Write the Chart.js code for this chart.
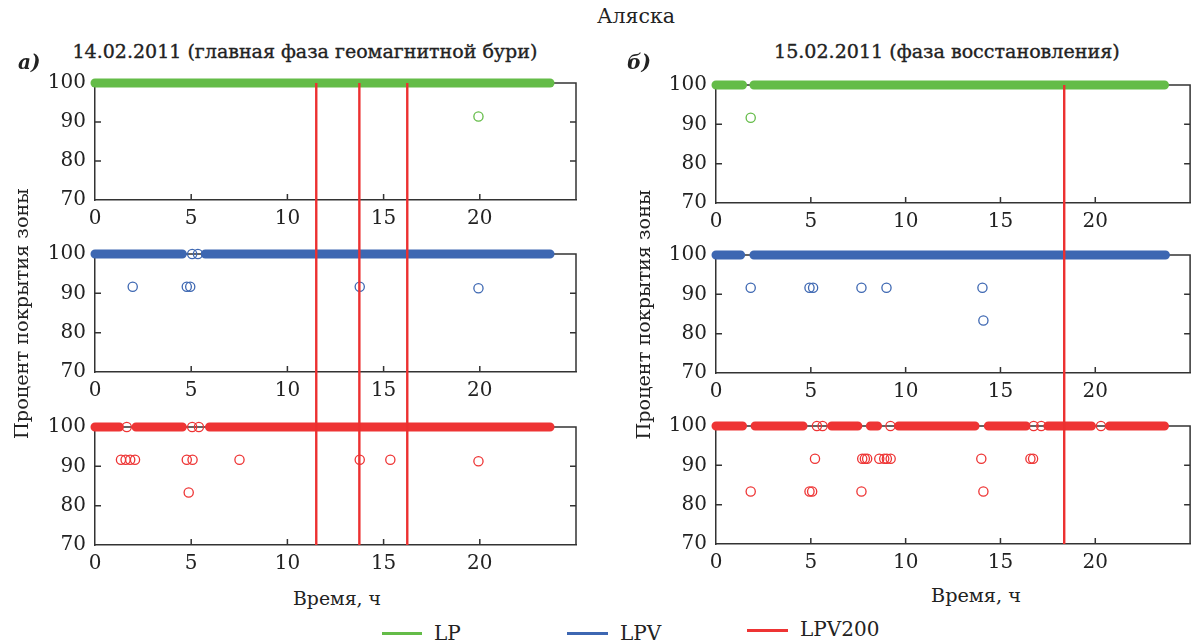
<!DOCTYPE html>
<html><head><meta charset="utf-8">
<script src="https://cdn.jsdelivr.net/npm/chart.js@4.4.1/dist/chart.umd.min.js"></script>
<style>
html,body{margin:0;padding:0;background:#fff;}
body{width:1196px;height:643px;position:relative;overflow:hidden;font-family:"DejaVu Serif",serif;color:#222;}
canvas{position:absolute;}
.t{position:absolute;white-space:nowrap;line-height:1;}
.lg{position:absolute;height:3px;}
</style></head><body>
<script>
// ---------- data ----------
const xTickLabels = [0, 5, 10, 15, 20];
const yTickLabels = [70, 80, 90, 100];
const seriesNames = ['LP', 'LPV', 'LPV200'];
const seriesColors = ['#64bc48', '#3d67b2', '#ee3434'];

// 14.02.2011 — runs of 100 % coverage [start, end] in hours, isolated 100 % points, drops
const lpRuns14 = [[0, 23.65]];
const lpSingles14 = [];
const lpDropX14 = [19.93];
const lpDropY14 = [91.4];

const lpvRuns14 = [[0, 4.54], [5.73, 23.65]];
const lpvSingles14 = [5.05, 5.35];
const lpvDropX14 = [1.96, 4.77, 4.95, 13.76, 19.93];
const lpvDropY14 = [91.67, 91.67, 91.67, 91.67, 91.3];

const lpv200Runs14 = [[0, 1.27], [2.13, 4.54], [5.95, 23.65]];
const lpv200Singles14 = [1.65, 5.05, 5.4];
const lpv200DropX14 = [1.35, 1.59, 1.83, 2.08, 4.77, 4.87, 5.07, 7.51, 13.76, 15.35, 19.93];
const lpv200DropY14 = [91.67, 91.67, 91.67, 91.67, 91.67, 83.33, 91.67, 91.67, 91.67, 91.67, 91.3];

const stormMarks14 = [11.5, 13.74, 16.23];

// 15.02.2011
const lpRuns15 = [[0, 1.4], [2.0, 23.65]];
const lpSingles15 = [];
const lpDropX15 = [1.83];
const lpDropY15 = [91.67];

const lpvRuns15 = [[0, 1.3], [2.0, 23.7]];
const lpvSingles15 = [];
const lpvDropX15 = [1.83, 4.93, 5.12, 7.67, 8.99, 14.05, 14.1];
const lpvDropY15 = [91.67, 91.67, 91.67, 91.67, 91.67, 91.67, 83.33];

const lpv200Runs15 = [[0, 1.4], [2.06, 4.59], [6.1, 7.48], [8.14, 8.52], [9.63, 13.66], [14.36, 16.35], [17.5, 19.8], [20.75, 23.65]];
const lpv200Singles15 = [5.32, 5.62, 9.2, 16.75, 17.15, 20.3];
const lpv200DropX15 = [1.83, 4.93, 5.07, 5.22, 7.67, 7.71, 7.85, 7.97, 8.61, 8.87, 9.01, 9.21, 13.99, 14.1, 16.58, 16.72];
const lpv200DropY15 = [83.33, 83.33, 83.33, 91.67, 83.33, 91.67, 91.67, 91.67, 91.67, 91.67, 91.67, 91.67, 91.67, 83.33, 91.67, 91.67];

const recoveryMarks15 = [18.25];

// ---------- helpers ----------
const tickFont = {family: 'DejaVu Serif', size: 20};
const axisColor = '#333';

const framePlugin = {
  id: 'frame',
  beforeDatasetsDraw(chart) {
    const {ctx, chartArea: a, scales: {x, y}} = chart;
    ctx.save();
    ctx.strokeStyle = axisColor; ctx.lineWidth = 1.5;
    ctx.beginPath();
    ctx.moveTo(a.left, a.top); ctx.lineTo(a.right, a.top); ctx.lineTo(a.right, a.bottom);
    yTickLabels.forEach(v => {
      if (v === 70 || v === 100) return;
      const py = y.getPixelForValue(v);
      ctx.moveTo(a.left, py); ctx.lineTo(a.left + 6, py);
      ctx.moveTo(a.right, py); ctx.lineTo(a.right - 6, py);
    });
    xTickLabels.forEach(v => {
      if (v === 0) return;
      const px = x.getPixelForValue(v);
      ctx.moveTo(px, a.bottom); ctx.lineTo(px, a.bottom - 6);
    });
    ctx.stroke();
    ctx.restore();
  }
};

function makeCanvas(left, top, w, h) {
  const c = document.createElement('canvas');
  c.width = w; c.height = h;
  c.style.left = left + 'px'; c.style.top = top + 'px';
  c.style.width = w + 'px'; c.style.height = h + 'px';
  document.body.appendChild(c);
  return c;
}

function makePanel(left, width, axisW, padRight, areaTop, areaBottom, runs, singles, dropX, dropY, color) {
  const padTop = 12, axisH = 34;
  const c = makeCanvas(left, areaTop - padTop, width, areaBottom - areaTop + padTop + axisH);
  const band = [];
  runs.forEach(r => { band.push({x: r[0], y: 100}, {x: r[1], y: 100}, {x: r[1], y: null}); });
  const pts = singles.map(v => ({x: v, y: 100})).concat(dropX.map((v, i) => ({x: v, y: dropY[i]})));
  new Chart(c, {
    type: 'scatter',
    data: {datasets: [
      {data: pts, showLine: false, pointStyle: 'circle', pointRadius: 4.6, pointBorderWidth: 1.3,
       pointBorderColor: color, pointBackgroundColor: 'rgba(0,0,0,0)', clip: false},
      {data: band, showLine: true, spanGaps: false, borderColor: color, borderWidth: 9,
       borderCapStyle: 'round', pointRadius: 0, clip: false}
    ]},
    options: {
      responsive: false, animation: false, devicePixelRatio: 1,
      layout: {padding: {top: padTop, right: padRight, left: 0, bottom: 0}},
      plugins: {legend: {display: false}, tooltip: {enabled: false}},
      scales: {
        x: {type: 'linear', min: 0, max: 25,
            afterFit: s => { s.height = axisH; s.paddingLeft = 0; s.paddingRight = 0; },
            afterBuildTicks: s => { s.ticks = xTickLabels.map(v => ({value: v})); },
            grid: {display: false, drawTicks: false},
            border: {display: true, color: axisColor, width: 1.5},
            ticks: {padding: 7, font: tickFont, color: '#222', maxRotation: 0, autoSkip: false}},
        y: {type: 'linear', min: 70, max: 100,
            afterFit: s => { s.width = axisW; s.paddingTop = 0; s.paddingBottom = 0; },
            afterBuildTicks: s => { s.ticks = yTickLabels.map(v => ({value: v})); },
            grid: {display: false, drawTicks: false},
            border: {display: true, color: axisColor, width: 1.5},
            ticks: {padding: 9, font: tickFont, color: '#222', autoSkip: false}}
      }
    },
    plugins: [framePlugin]
  });
}

function makeMarks(left, right, top, bottom, marks) {
  const c = makeCanvas(left, top, right - left, bottom - top);
  new Chart(c, {
    type: 'scatter',
    data: {datasets: marks.map(m => ({data: [{x: m, y: 0}, {x: m, y: 1}], showLine: true,
      borderColor: '#ec3030', borderWidth: 2.4, pointRadius: 0}))},
    options: {
      responsive: false, animation: false, devicePixelRatio: 1,
      layout: {padding: 0},
      plugins: {legend: {display: false}, tooltip: {enabled: false}},
      scales: {x: {type: 'linear', min: 0, max: 25, display: false},
               y: {type: 'linear', min: 0, max: 1, display: false}}
    }
  });
}

function addText(txt, cx, cy, size, opts) {
  opts = opts || {};
  const d = document.createElement('div');
  d.className = 't'; d.textContent = txt;
  d.style.fontSize = size + 'px';
  if (opts.bold) d.style.fontWeight = 'bold';
  if (opts.italic) d.style.fontStyle = 'italic';
  if (opts.stroke) d.style.webkitTextStroke = opts.stroke + 'px #222';
  document.body.appendChild(d);
  if (opts.width) {
    const w0 = d.getBoundingClientRect().width;
    d.style.fontSize = (size * opts.width / w0) + 'px';
  }
  const w = d.offsetWidth, h = d.offsetHeight;
  d.style.left = (cx - w / 2) + 'px';
  d.style.top = (cy - h / 2) + 'px';
  if (opts.rotate) d.style.transform = 'rotate(-90deg)';
}

function legendItem(x0, x1, y, color, label, ty) {
  const l = document.createElement('div');
  l.className = 'lg';
  l.style.left = x0 + 'px'; l.style.width = (x1 - x0) + 'px'; l.style.top = (y - 1.5) + 'px';
  l.style.background = color;
  document.body.appendChild(l);
  const d = document.createElement('div');
  d.className = 't'; d.textContent = label; d.style.fontSize = '20px';
  document.body.appendChild(d);
  d.style.left = (x1 + 12) + 'px';
  d.style.top = (ty - d.offsetHeight / 2) + 'px';
}

// ---------- left column: 14.02.2011 ----------
makePanel(0, 590, 95, 14, 83, 200, lpRuns14, lpSingles14, lpDropX14, lpDropY14, seriesColors[0]);
makePanel(0, 590, 95, 14, 254, 372, lpvRuns14, lpvSingles14, lpvDropX14, lpvDropY14, seriesColors[1]);
makePanel(0, 590, 95, 14, 427, 545, lpv200Runs14, lpv200Singles14, lpv200DropX14, lpv200DropY14, seriesColors[2]);
makeMarks(95, 576, 83, 545, stormMarks14);

// ---------- right column: 15.02.2011 ----------
makePanel(620, 576, 96, 3, 85, 203, lpRuns15, lpSingles15, lpDropX15, lpDropY15, seriesColors[0]);
makePanel(620, 576, 96, 3, 255, 373, lpvRuns15, lpvSingles15, lpvDropX15, lpvDropY15, seriesColors[1]);
makePanel(620, 576, 96, 3, 426, 544, lpv200Runs15, lpv200Singles15, lpv200DropX15, lpv200DropY15, seriesColors[2]);
makeMarks(716, 1193, 85, 544, recoveryMarks15);

// ---------- texts ----------
addText('Аляска', 636, 16, 18, {width: 78});
addText('14.02.2011 (главная фаза геомагнитной бури)', 305, 51, 18, {width: 465, stroke: 0.35});
addText('15.02.2011 (фаза восстановления)', 947, 51, 18, {width: 346, stroke: 0.35});
addText('а)', 29, 62, 20, {bold: true, italic: true});
addText('б)', 639, 62, 20, {bold: true, italic: true});
addText('Процент покрытия зоны', 21, 313, 20, {rotate: true, width: 251});
addText('Процент покрытия зоны', 644, 314, 20, {rotate: true, width: 250});
addText('Время, ч', 337, 599, 20, {width: 88});
addText('Время, ч', 976, 595, 20, {width: 90});

legendItem(382, 422, 633, seriesColors[0], seriesNames[0], 633);
legendItem(567, 608, 633, seriesColors[1], seriesNames[1], 633);
legendItem(747, 788, 630, seriesColors[2], seriesNames[2], 629);
</script>
</body></html>
